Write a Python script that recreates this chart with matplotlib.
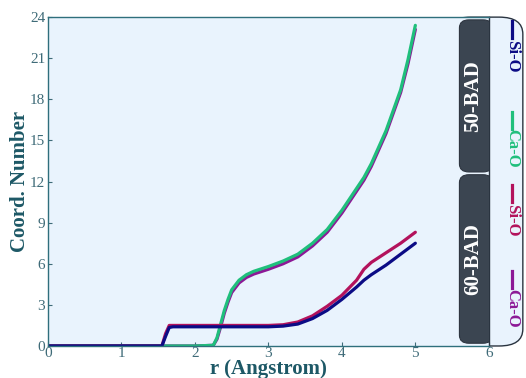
import matplotlib
matplotlib.use("Agg")
import matplotlib.pyplot as plt
from matplotlib.patches import FancyBboxPatch
from matplotlib.lines import Line2D

plt.rcParams['font.family'] = ['Liberation Serif', 'DejaVu Serif']

# r values (Angstrom)
r = [0, 1.55, 1.6, 1.65, 1.7, 2.0, 2.25, 2.3, 2.35, 2.4, 2.45, 2.5, 2.6, 2.7, 2.8,
     3.0, 3.2, 3.4, 3.6, 3.8, 4.0, 4.2, 4.3, 4.4, 4.6, 4.8, 4.9, 5.0]

# coordination numbers
sio_50 = [0, 0, 0.7, 1.35, 1.4, 1.4, 1.4, 1.4, 1.4, 1.4, 1.4, 1.4, 1.4, 1.4, 1.4,
          1.4, 1.45, 1.6, 2.0, 2.6, 3.4, 4.3, 4.8, 5.2, 5.9, 6.7, 7.1, 7.5]
cao_50 = [0, 0, 0, 0, 0, 0, 0.05, 0.6, 1.6, 2.6, 3.4, 4.1, 4.8, 5.2, 5.45,
          5.8, 6.2, 6.7, 7.5, 8.5, 9.9, 11.5, 12.3, 13.3, 15.7, 18.7, 20.9, 23.4]
sio_60 = [0, 0, 0.9, 1.5, 1.5, 1.5, 1.5, 1.5, 1.5, 1.5, 1.5, 1.5, 1.5, 1.5, 1.5,
          1.5, 1.55, 1.75, 2.2, 2.9, 3.7, 4.8, 5.6, 6.1, 6.8, 7.5, 7.9, 8.3]
cao_60 = [0, 0, 0, 0, 0, 0, 0.05, 0.5, 1.4, 2.4, 3.2, 3.9, 4.6, 5.0, 5.25,
          5.6, 6.0, 6.5, 7.3, 8.3, 9.7, 11.3, 12.1, 13.1, 15.5, 18.5, 20.6, 23.1]

c_navy = '#0b0b85'
c_green = '#1fbf7c'
c_crim = '#b3125c'
c_purp = '#8c1896'
teal = '#1d5866'
tick_c = '#3f6b78'

fig = plt.figure(figsize=(5.26, 3.78), dpi=100)

# legend box on the right (left part hidden behind the axes)
box = FancyBboxPatch((0.85, 0.0847), 0.144, 0.870,
                     boxstyle='round,pad=0,rounding_size=0.045',
                     transform=fig.transFigure, fc='#e9f3fd', ec='#2a3440',
                     lw=1.0, zorder=-1)
fig.patches.append(box)

ax = fig.add_axes([0.0913, 0.0847, 0.838, 0.870])
ax.set_facecolor('#e9f3fd')

ax.plot(r, cao_60, color=c_purp, lw=2.3, solid_capstyle='round')
ax.plot(r, cao_50, color=c_green, lw=2.3, solid_capstyle='round')
ax.plot(r, sio_60, color=c_crim, lw=2.3, solid_capstyle='round')
ax.plot(r, sio_50, color=c_navy, lw=2.3, solid_capstyle='round')

ax.set_xlim(0, 6)
ax.set_ylim(0, 24)
ax.set_xticks(range(0, 7))
ax.set_yticks(range(0, 25, 3))
ax.tick_params(axis='x', direction='in', colors=tick_c, labelsize=11, length=3, pad=1)
ax.tick_params(axis='y', direction='in', colors=tick_c, labelsize=11, length=3, pad=2)
for s in ax.spines.values():
    s.set_color('#2f6f7c')
    s.set_linewidth(1.0)
ax.spines['right'].set_color('#2a3440')

ax.set_xlabel('r (Angstrom)', color=teal, fontsize=15, fontweight='bold', labelpad=-1)
ax.set_ylabel('Coord. Number', color=teal, fontsize=15, fontweight='bold', labelpad=0)

# dark tabs inside plot area
tabs = [(12.7, 23.8, '50-BAD'), (0.2, 12.5, '60-BAD')]
for y0, y1, lab in tabs:
    p = FancyBboxPatch((5.6, y0), 0.45, y1 - y0,
                       boxstyle='round,pad=0,rounding_size=0.13',
                       mutation_aspect=4.5,
                       fc='#3b4551', ec='#2e3540', lw=0.8, zorder=5)
    ax.add_patch(p)
    ax.text(5.79, (y0 + y1) / 2, lab, rotation=90, ha='center', va='center',
            color='white', fontsize=15, fontweight='bold', zorder=6)

entries = [(c_navy, 'Si-O', 0.945, 0.895), (c_green, 'Ca-O', 0.705, 0.66),
           (c_crim, 'Si-O', 0.51, 0.46), (c_purp, 'Ca-O', 0.282, 0.235)]
xl = 0.974
for col, lab, ytop, ytxt in entries:
    fig.lines.append(Line2D([xl, xl], [ytop, ytop - 0.045], color=col, lw=2.3,
                            transform=fig.transFigure, zorder=10))
    fig.text(xl, ytxt, lab, rotation=-90, ha='center', va='top', color=col,
             fontsize=12, fontweight='bold', zorder=10)

fig.savefig('out.png', dpi=100)
